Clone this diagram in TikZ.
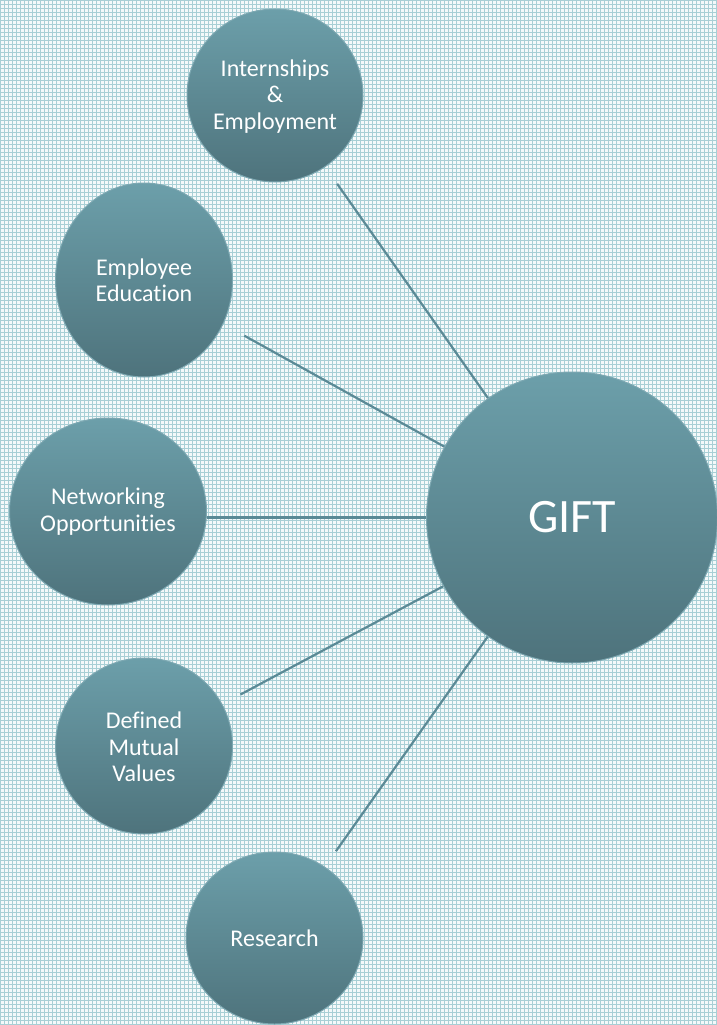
\documentclass[tikz,border=0pt]{standalone}
\usepackage{fontspec}
\setmainfont{Carlito}[Ligatures=NoCommon]
\usetikzlibrary{shapes.geometric}
\definecolor{bgc}{HTML}{F4F9FA}
\definecolor{gridc}{HTML}{A8CFD5}
\definecolor{topc}{HTML}{6C9FAA}
\definecolor{botc}{HTML}{4E737C}
\definecolor{edgec}{HTML}{7DA8B2}
\definecolor{linkc}{HTML}{5B8A96}
\tikzset{
  bubble/.style={ellipse, draw=edgec, line width=1pt, top color=topc, bottom color=botc,
    inner sep=0pt, align=center, text=white, font=\fontsize{24}{26.4}\selectfont},
  hub/.style={bubble, font=\fontsize{48}{52}\selectfont},
  link/.style={draw=linkc, line width=2.2pt}
}
\begin{document}
\begin{tikzpicture}[x=1pt,y=-1pt]
\useasboundingbox (0,0) rectangle (717,1025);
\fill[bgc] (0,0) rectangle (717,1025);
\draw[gridc, line width=0.6pt, step=4pt] (0,0) grid (717,1025);

\node[hub, minimum width=291pt, minimum height=291pt] (gift) at (572,517.5) {GIFT};
\node[bubble, minimum width=176pt, minimum height=173pt] (intern) at (275,95.5) {\strut Internships\\\&\\Employment};
\node[bubble, minimum width=177pt, minimum height=194pt] (educ) at (144,280) {Employee\\Education};
\node[bubble, minimum width=197pt, minimum height=187pt] (net) at (108,511.5) {Networking\\Opportunities};
\node[bubble, minimum width=177pt, minimum height=176pt] (values) at (144,746) {\strut Defined\\Mutual\\Values};
\node[bubble, minimum width=177pt, minimum height=172pt] (research) at (274.5,938) {Research};

\draw[link, shorten <=20.5pt] (intern) -- (gift);
\draw[link, shorten <=24pt] (educ) -- (gift);
\draw[link] (gift.west) -- (gift.west -| net.east);
\draw[link, shorten <=20.5pt] (values) -- (gift);
\draw[link, shorten <=19pt] (research) -- (gift);
\end{tikzpicture}
\end{document}
